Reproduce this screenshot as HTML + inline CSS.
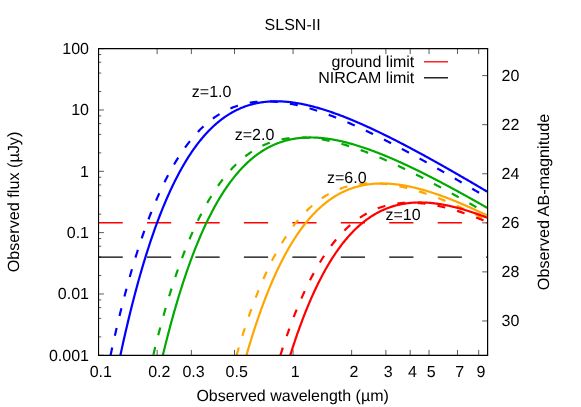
<!DOCTYPE html>
<html><head><meta charset="utf-8"><title>SLSN-II</title>
<style>html,body{margin:0;padding:0;background:#fff;}body{width:581px;height:407px;overflow:hidden;position:relative;font-family:"Liberation Sans",sans-serif;}</style>
</head><body>
<svg width="581" height="407" viewBox="0 0 581 407" style="position:absolute;left:0;top:0;will-change:transform">
<defs><clipPath id="c"><rect x="98.55" y="48.65" width="389.05" height="306.65000000000003"/></clipPath></defs>
<path d="M98.55,355.30h5.4M98.55,336.84h2.7M98.55,318.38h2.7M98.55,307.58h2.7M98.55,299.91h2.7M98.55,293.97h5.4M98.55,275.51h2.7M98.55,257.05h2.7M98.55,246.25h2.7M98.55,238.58h2.7M98.55,232.64h5.4M98.55,214.18h2.7M98.55,195.72h2.7M98.55,184.92h2.7M98.55,177.25h2.7M98.55,171.31h5.4M98.55,152.85h2.7M98.55,134.39h2.7M98.55,123.59h2.7M98.55,115.92h2.7M98.55,109.98h5.4M98.55,91.52h2.7M98.55,73.06h2.7M98.55,62.26h2.7M98.55,54.59h2.7M98.55,48.65h5.4M98.55,355.3v-5.4M98.55,48.65v5.4M157.11,355.3v-5.4M157.11,48.65v5.4M191.36,355.3v-5.4M191.36,48.65v5.4M234.52,355.3v-5.4M234.52,48.65v5.4M293.07,355.3v-5.4M293.07,48.65v5.4M351.63,355.3v-5.4M351.63,48.65v5.4M385.89,355.3v-5.4M385.89,48.65v5.4M410.19,355.3v-5.4M410.19,48.65v5.4M429.04,355.3v-5.4M429.04,48.65v5.4M457.47,355.3v-5.4M457.47,48.65v5.4M478.70,355.3v-5.4M478.70,48.65v5.4M487.6,75.64h-5.4M487.6,124.70h-5.4M487.6,173.76h-5.4M487.6,222.83h-5.4M487.6,271.89h-5.4M487.6,320.96h-5.4" stroke="#000" stroke-width="0.65" fill="none"/>
<g clip-path="url(#c)">
<path d="M98.55,222.75H487.6" stroke="#ff0000" stroke-width="1.3" stroke-dasharray="24.2 24.25" fill="none"/>
<path d="M98.55,257.2H487.6" stroke="#000" stroke-width="1.3" stroke-dasharray="24.2 24.25" fill="none"/>
<path d="M114.25,385.30 L115.67,378.14 L116.45,374.28 L117.22,370.45 L118.00,366.67 L118.78,362.93 L119.56,359.22 L120.34,355.56 L121.11,351.94 L121.89,348.36 L122.67,344.82 L123.45,341.32 L124.23,337.86 L125.01,334.43 L125.78,331.05 L126.56,327.70 L127.34,324.39 L128.12,321.12 L128.90,317.88 L129.67,314.68 L130.45,311.51 L131.23,308.39 L132.01,305.29 L132.79,302.23 L133.56,299.21 L134.34,296.22 L135.12,293.27 L135.90,290.35 L136.68,287.46 L137.46,284.61 L138.23,281.78 L139.01,279.00 L139.79,276.24 L140.57,273.52 L141.35,270.82 L142.12,268.16 L142.90,265.53 L143.68,262.93 L144.46,260.36 L145.24,257.83 L146.01,255.32 L146.79,252.84 L147.57,250.39 L148.35,247.97 L149.13,245.58 L149.90,243.22 L150.68,240.88 L151.46,238.58 L152.24,236.30 L153.02,234.05 L153.80,231.83 L154.57,229.63 L155.35,227.46 L156.13,225.32 L156.91,223.21 L157.69,221.12 L158.46,219.05 L159.24,217.01 L160.02,215.00 L160.80,213.01 L161.58,211.05 L162.35,209.11 L163.13,207.20 L163.91,205.31 L164.69,203.45 L165.47,201.61 L166.24,199.79 L167.02,197.99 L167.80,196.22 L168.58,194.48 L169.36,192.75 L170.14,191.05 L170.91,189.37 L171.69,187.71 L172.47,186.07 L173.25,184.46 L174.03,182.87 L174.80,181.30 L175.58,179.74 L176.36,178.22 L177.14,176.71 L177.92,175.22 L178.69,173.75 L179.47,172.30 L180.25,170.88 L181.03,169.47 L181.81,168.08 L182.58,166.71 L183.36,165.36 L184.14,164.03 L184.92,162.72 L185.70,161.43 L186.48,160.15 L187.25,158.90 L188.03,157.66 L188.81,156.44 L189.59,155.24 L190.37,154.05 L191.14,152.89 L191.92,151.74 L192.70,150.61 L193.48,149.49 L194.26,148.40 L195.03,147.31 L195.81,146.25 L196.59,145.20 L197.37,144.17 L198.15,143.15 L198.92,142.15 L199.70,141.17 L200.48,140.20 L201.26,139.25 L202.04,138.31 L202.82,137.39 L203.59,136.48 L204.37,135.59 L205.15,134.71 L205.93,133.85 L206.71,133.00 L207.48,132.17 L208.26,131.35 L209.04,130.54 L209.82,129.75 L210.60,128.97 L211.37,128.21 L212.15,127.46 L212.93,126.72 L213.71,126.00 L214.49,125.29 L215.27,124.59 L216.04,123.91 L216.82,123.24 L217.60,122.58 L218.38,121.93 L219.16,121.30 L219.93,120.67 L220.71,120.06 L221.49,119.47 L222.27,118.88 L223.05,118.31 L223.82,117.74 L224.60,117.19 L225.38,116.65 L226.16,116.13 L226.94,115.61 L227.71,115.10 L228.49,114.61 L229.27,114.13 L230.05,113.65 L230.83,113.19 L231.61,112.74 L232.38,112.30 L233.16,111.87 L233.94,111.45 L234.72,111.04 L235.50,110.64 L236.27,110.24 L237.05,109.86 L237.83,109.49 L238.61,109.13 L239.39,108.78 L240.16,108.44 L240.94,108.10 L241.72,107.78 L242.50,107.46 L243.28,107.16 L244.05,106.86 L244.83,106.57 L245.61,106.29 L246.39,106.02 L247.17,105.76 L247.95,105.51 L248.72,105.26 L249.50,105.03 L250.28,104.80 L251.06,104.58 L251.84,104.36 L252.61,104.16 L253.39,103.96 L254.17,103.77 L254.95,103.59 L255.73,103.42 L256.50,103.25 L257.28,103.09 L258.06,102.94 L258.84,102.79 L259.62,102.66 L260.39,102.53 L261.17,102.40 L261.95,102.29 L262.73,102.18 L263.51,102.08 L264.29,101.98 L265.06,101.89 L265.84,101.81 L266.62,101.73 L267.40,101.66 L268.18,101.60 L268.95,101.54 L269.73,101.49 L270.51,101.44 L271.29,101.41 L272.07,101.37 L272.84,101.35 L273.62,101.32 L274.40,101.31 L275.18,101.30 L275.96,101.30 L276.73,101.30 L277.51,101.30 L278.29,101.32 L279.07,101.33 L279.85,101.36 L280.63,101.39 L281.40,101.42 L282.18,101.46 L282.96,101.50 L283.74,101.55 L284.52,101.61 L285.29,101.66 L286.07,101.73 L286.85,101.80 L287.63,101.87 L288.41,101.95 L289.18,102.03 L289.96,102.12 L290.74,102.21 L291.52,102.30 L292.30,102.41 L293.08,102.51 L293.85,102.62 L294.63,102.73 L295.41,102.85 L296.19,102.97 L296.97,103.10 L297.74,103.23 L298.52,103.36 L299.30,103.50 L300.08,103.64 L300.86,103.79 L301.63,103.94 L302.41,104.09 L303.19,104.25 L303.97,104.41 L304.75,104.57 L305.52,104.74 L306.30,104.91 L307.08,105.09 L307.86,105.27 L308.64,105.45 L309.42,105.64 L310.19,105.83 L310.97,106.02 L311.75,106.21 L312.53,106.41 L313.31,106.62 L314.08,106.82 L314.86,107.03 L315.64,107.24 L316.42,107.45 L317.20,107.67 L317.97,107.89 L318.75,108.12 L319.53,108.34 L320.31,108.57 L321.09,108.80 L321.86,109.04 L322.64,109.28 L323.42,109.52 L324.20,109.76 L324.98,110.01 L325.76,110.26 L326.53,110.51 L327.31,110.76 L328.09,111.02 L328.87,111.28 L329.65,111.54 L330.42,111.80 L331.20,112.07 L331.98,112.34 L332.76,112.61 L333.54,112.88 L334.31,113.16 L335.09,113.44 L335.87,113.72 L336.65,114.00 L337.43,114.28 L338.20,114.57 L338.98,114.86 L339.76,115.15 L340.54,115.45 L341.32,115.74 L342.10,116.04 L342.87,116.34 L343.65,116.64 L344.43,116.95 L345.21,117.25 L345.99,117.56 L346.76,117.87 L347.54,118.18 L348.32,118.50 L349.10,118.81 L349.88,119.13 L350.65,119.45 L351.43,119.77 L352.21,120.09 L352.99,120.42 L353.77,120.74 L354.54,121.07 L355.32,121.40 L356.10,121.73 L356.88,122.06 L357.66,122.40 L358.44,122.74 L359.21,123.07 L359.99,123.41 L360.77,123.76 L361.55,124.10 L362.33,124.44 L363.10,124.79 L363.88,125.14 L364.66,125.48 L365.44,125.83 L366.22,126.19 L366.99,126.54 L367.77,126.89 L368.55,127.25 L369.33,127.61 L370.11,127.97 L370.89,128.33 L371.66,128.69 L372.44,129.05 L373.22,129.42 L374.00,129.78 L374.78,130.15 L375.55,130.52 L376.33,130.89 L377.11,131.26 L377.89,131.63 L378.67,132.00 L379.44,132.37 L380.22,132.75 L381.00,133.13 L381.78,133.50 L382.56,133.88 L383.33,134.26 L384.11,134.64 L384.89,135.03 L385.67,135.41 L386.45,135.79 L387.23,136.18 L388.00,136.57 L388.78,136.95 L389.56,137.34 L390.34,137.73 L391.12,138.12 L391.89,138.52 L392.67,138.91 L393.45,139.30 L394.23,139.70 L395.01,140.09 L395.78,140.49 L396.56,140.89 L397.34,141.29 L398.12,141.69 L398.90,142.09 L399.67,142.49 L400.45,142.89 L401.23,143.29 L402.01,143.70 L402.79,144.10 L403.57,144.51 L404.34,144.91 L405.12,145.32 L405.90,145.73 L406.68,146.14 L407.46,146.55 L408.23,146.96 L409.01,147.37 L409.79,147.78 L410.57,148.20 L411.35,148.61 L412.12,149.02 L412.90,149.44 L413.68,149.86 L414.46,150.27 L415.24,150.69 L416.01,151.11 L416.79,151.53 L417.57,151.95 L418.35,152.37 L419.13,152.79 L419.91,153.21 L420.68,153.63 L421.46,154.06 L422.24,154.48 L423.02,154.90 L423.80,155.33 L424.57,155.76 L425.35,156.18 L426.13,156.61 L426.91,157.04 L427.69,157.46 L428.46,157.89 L429.24,158.32 L430.02,158.75 L430.80,159.18 L431.58,159.62 L432.35,160.05 L433.13,160.48 L433.91,160.91 L434.69,161.35 L435.47,161.78 L436.25,162.22 L437.02,162.65 L437.80,163.09 L438.58,163.52 L439.36,163.96 L440.14,164.40 L440.91,164.83 L441.69,165.27 L442.47,165.71 L443.25,166.15 L444.03,166.59 L444.80,167.03 L445.58,167.47 L446.36,167.91 L447.14,168.36 L447.92,168.80 L448.70,169.24 L449.47,169.68 L450.25,170.13 L451.03,170.57 L451.81,171.02 L452.59,171.46 L453.36,171.91 L454.14,172.35 L454.92,172.80 L455.70,173.25 L456.48,173.69 L457.25,174.14 L458.03,174.59 L458.81,175.04 L459.59,175.49 L460.37,175.94 L461.14,176.39 L461.92,176.84 L462.70,177.29 L463.48,177.74 L464.26,178.19 L465.04,178.64 L465.81,179.09 L466.59,179.54 L467.37,180.00 L468.15,180.45 L468.93,180.90 L469.70,181.36 L470.48,181.81 L471.26,182.27 L472.04,182.72 L472.82,183.18 L473.59,183.63 L474.37,184.09 L475.15,184.54 L475.93,185.00 L476.71,185.46 L477.48,185.91 L478.26,186.37 L479.04,186.83 L479.82,187.29 L480.60,187.75 L481.38,188.20 L482.15,188.66 L482.93,189.12 L483.71,189.58 L484.49,190.04 L485.27,190.50 L486.04,190.96 L486.82,191.42 L487.60,191.89 L488.38,192.35 L489.16,192.81 L489.93,193.27 L490.71,193.73 L491.49,194.19 L492.27,194.66 L493.05,195.12" stroke="#0000ff" stroke-width="2.2" fill="none"/>
<path d="M104.40,385.30 L105.55,379.48 L106.33,375.60 L107.11,371.76 L107.89,367.97 L108.67,364.21 L109.44,360.50 L110.22,356.82 L111.00,353.19 L111.78,349.60 L112.56,346.04 L113.33,342.53 L114.11,339.05 L114.89,335.62 L115.67,332.22 L116.45,328.86 L117.22,325.54 L118.00,322.25 L118.78,319.00 L119.56,315.79 L120.34,312.61 L121.11,309.47 L121.89,306.37 L122.67,303.30 L123.45,300.26 L124.23,297.26 L125.01,294.30 L125.78,291.37 L126.56,288.47 L127.34,285.60 L128.12,282.77 L128.90,279.97 L129.67,277.21 L130.45,274.47 L131.23,271.77 L132.01,269.10 L132.79,266.46 L133.56,263.85 L134.34,261.27 L135.12,258.72 L135.90,256.20 L136.68,253.72 L137.46,251.26 L138.23,248.83 L139.01,246.43 L139.79,244.06 L140.57,241.71 L141.35,239.40 L142.12,237.11 L142.90,234.85 L143.68,232.62 L144.46,230.42 L145.24,228.24 L146.01,226.09 L146.79,223.96 L147.57,221.87 L148.35,219.79 L149.13,217.75 L149.90,215.73 L150.68,213.73 L151.46,211.76 L152.24,209.81 L153.02,207.89 L153.80,206.00 L154.57,204.12 L155.35,202.28 L156.13,200.45 L156.91,198.65 L157.69,196.87 L158.46,195.12 L159.24,193.38 L160.02,191.67 L160.80,189.99 L161.58,188.32 L162.35,186.68 L163.13,185.06 L163.91,183.46 L164.69,181.88 L165.47,180.32 L166.24,178.78 L167.02,177.27 L167.80,175.77 L168.58,174.30 L169.36,172.85 L170.14,171.41 L170.91,170.00 L171.69,168.60 L172.47,167.23 L173.25,165.87 L174.03,164.54 L174.80,163.22 L175.58,161.92 L176.36,160.64 L177.14,159.38 L177.92,158.13 L178.69,156.91 L179.47,155.70 L180.25,154.51 L181.03,153.34 L181.81,152.18 L182.58,151.05 L183.36,149.93 L184.14,148.82 L184.92,147.74 L185.70,146.67 L186.48,145.61 L187.25,144.58 L188.03,143.56 L188.81,142.55 L189.59,141.56 L190.37,140.59 L191.14,139.63 L191.92,138.69 L192.70,137.76 L193.48,136.85 L194.26,135.95 L195.03,135.07 L195.81,134.20 L196.59,133.35 L197.37,132.51 L198.15,131.69 L198.92,130.88 L199.70,130.08 L200.48,129.30 L201.26,128.53 L202.04,127.78 L202.82,127.03 L203.59,126.31 L204.37,125.59 L205.15,124.89 L205.93,124.20 L206.71,123.53 L207.48,122.86 L208.26,122.21 L209.04,121.57 L209.82,120.95 L210.60,120.33 L211.37,119.73 L212.15,119.14 L212.93,118.57 L213.71,118.00 L214.49,117.44 L215.27,116.90 L216.04,116.37 L216.82,115.85 L217.60,115.34 L218.38,114.84 L219.16,114.36 L219.93,113.88 L220.71,113.41 L221.49,112.96 L222.27,112.51 L223.05,112.08 L223.82,111.66 L224.60,111.24 L225.38,110.84 L226.16,110.44 L226.94,110.06 L227.71,109.69 L228.49,109.32 L229.27,108.97 L230.05,108.62 L230.83,108.28 L231.61,107.96 L232.38,107.64 L233.16,107.33 L233.94,107.03 L234.72,106.74 L235.50,106.46 L236.27,106.18 L237.05,105.92 L237.83,105.66 L238.61,105.42 L239.39,105.18 L240.16,104.94 L240.94,104.72 L241.72,104.51 L242.50,104.30 L243.28,104.10 L244.05,103.91 L244.83,103.72 L245.61,103.55 L246.39,103.38 L247.17,103.22 L247.95,103.06 L248.72,102.91 L249.50,102.77 L250.28,102.64 L251.06,102.52 L251.84,102.40 L252.61,102.29 L253.39,102.18 L254.17,102.08 L254.95,101.99 L255.73,101.91 L256.50,101.83 L257.28,101.76 L258.06,101.69 L258.84,101.63 L259.62,101.58 L260.39,101.53 L261.17,101.49 L261.95,101.46 L262.73,101.43 L263.51,101.40 L264.29,101.39 L265.06,101.38 L265.84,101.37 L266.62,101.37 L267.40,101.37 L268.18,101.39 L268.95,101.40 L269.73,101.42 L270.51,101.45 L271.29,101.48 L272.07,101.52 L272.84,101.56 L273.62,101.61 L274.40,101.66 L275.18,101.72 L275.96,101.78 L276.73,101.85 L277.51,101.92 L278.29,102.00 L279.07,102.08 L279.85,102.16 L280.63,102.25 L281.40,102.35 L282.18,102.45 L282.96,102.55 L283.74,102.66 L284.52,102.77 L285.29,102.89 L286.07,103.01 L286.85,103.13 L287.63,103.26 L288.41,103.39 L289.18,103.53 L289.96,103.67 L290.74,103.81 L291.52,103.96 L292.30,104.12 L293.08,104.27 L293.85,104.43 L294.63,104.59 L295.41,104.76 L296.19,104.93 L296.97,105.11 L297.74,105.28 L298.52,105.47 L299.30,105.65 L300.08,105.84 L300.86,106.03 L301.63,106.22 L302.41,106.42 L303.19,106.62 L303.97,106.83 L304.75,107.03 L305.52,107.24 L306.30,107.46 L307.08,107.68 L307.86,107.89 L308.64,108.12 L309.42,108.34 L310.19,108.57 L310.97,108.80 L311.75,109.04 L312.53,109.27 L313.31,109.51 L314.08,109.76 L314.86,110.00 L315.64,110.25 L316.42,110.50 L317.20,110.75 L317.97,111.01 L318.75,111.27 L319.53,111.53 L320.31,111.79 L321.09,112.06 L321.86,112.32 L322.64,112.59 L323.42,112.87 L324.20,113.14 L324.98,113.42 L325.76,113.70 L326.53,113.98 L327.31,114.27 L328.09,114.55 L328.87,114.84 L329.65,115.13 L330.42,115.42 L331.20,115.72 L331.98,116.02 L332.76,116.32 L333.54,116.62 L334.31,116.92 L335.09,117.23 L335.87,117.53 L336.65,117.84 L337.43,118.15 L338.20,118.47 L338.98,118.78 L339.76,119.10 L340.54,119.42 L341.32,119.74 L342.10,120.06 L342.87,120.38 L343.65,120.71 L344.43,121.04 L345.21,121.37 L345.99,121.70 L346.76,122.03 L347.54,122.36 L348.32,122.70 L349.10,123.04 L349.88,123.38 L350.65,123.72 L351.43,124.06 L352.21,124.40 L352.99,124.75 L353.77,125.10 L354.54,125.44 L355.32,125.79 L356.10,126.15 L356.88,126.50 L357.66,126.85 L358.44,127.21 L359.21,127.56 L359.99,127.92 L360.77,128.28 L361.55,128.64 L362.33,129.01 L363.10,129.37 L363.88,129.74 L364.66,130.10 L365.44,130.47 L366.22,130.84 L366.99,131.21 L367.77,131.58 L368.55,131.95 L369.33,132.33 L370.11,132.70 L370.89,133.08 L371.66,133.46 L372.44,133.83 L373.22,134.21 L374.00,134.59 L374.78,134.98 L375.55,135.36 L376.33,135.74 L377.11,136.13 L377.89,136.51 L378.67,136.90 L379.44,137.29 L380.22,137.68 L381.00,138.07 L381.78,138.46 L382.56,138.85 L383.33,139.25 L384.11,139.64 L384.89,140.04 L385.67,140.43 L386.45,140.83 L387.23,141.23 L388.00,141.63 L388.78,142.03 L389.56,142.43 L390.34,142.83 L391.12,143.23 L391.89,143.64 L392.67,144.04 L393.45,144.45 L394.23,144.86 L395.01,145.26 L395.78,145.67 L396.56,146.08 L397.34,146.49 L398.12,146.90 L398.90,147.31 L399.67,147.72 L400.45,148.14 L401.23,148.55 L402.01,148.96 L402.79,149.38 L403.57,149.79 L404.34,150.21 L405.12,150.63 L405.90,151.05 L406.68,151.46 L407.46,151.88 L408.23,152.30 L409.01,152.73 L409.79,153.15 L410.57,153.57 L411.35,153.99 L412.12,154.42 L412.90,154.84 L413.68,155.26 L414.46,155.69 L415.24,156.12 L416.01,156.54 L416.79,156.97 L417.57,157.40 L418.35,157.83 L419.13,158.26 L419.91,158.69 L420.68,159.12 L421.46,159.55 L422.24,159.98 L423.02,160.41 L423.80,160.85 L424.57,161.28 L425.35,161.71 L426.13,162.15 L426.91,162.58 L427.69,163.02 L428.46,163.45 L429.24,163.89 L430.02,164.33 L430.80,164.77 L431.58,165.20 L432.35,165.64 L433.13,166.08 L433.91,166.52 L434.69,166.96 L435.47,167.40 L436.25,167.84 L437.02,168.29 L437.80,168.73 L438.58,169.17 L439.36,169.61 L440.14,170.06 L440.91,170.50 L441.69,170.95 L442.47,171.39 L443.25,171.84 L444.03,172.28 L444.80,172.73 L445.58,173.17 L446.36,173.62 L447.14,174.07 L447.92,174.52 L448.70,174.97 L449.47,175.41 L450.25,175.86 L451.03,176.31 L451.81,176.76 L452.59,177.21 L453.36,177.66 L454.14,178.12 L454.92,178.57 L455.70,179.02 L456.48,179.47 L457.25,179.92 L458.03,180.38 L458.81,180.83 L459.59,181.28 L460.37,181.74 L461.14,182.19 L461.92,182.65 L462.70,183.10 L463.48,183.56 L464.26,184.01 L465.04,184.47 L465.81,184.93 L466.59,185.38 L467.37,185.84 L468.15,186.30 L468.93,186.75 L469.70,187.21 L470.48,187.67 L471.26,188.13 L472.04,188.59 L472.82,189.05 L473.59,189.51 L474.37,189.97 L475.15,190.43 L475.93,190.89 L476.71,191.35 L477.48,191.81 L478.26,192.27 L479.04,192.73 L479.82,193.19 L480.60,193.66 L481.38,194.12 L482.15,194.58 L482.93,195.04 L483.71,195.51 L484.49,195.97 L485.27,196.43 L486.04,196.90 L486.82,197.36 L487.60,197.83 L488.38,198.29 L489.16,198.76 L489.93,199.22 L490.71,199.69 L491.49,200.15 L492.27,200.62 L493.05,201.08" stroke="#0000ff" stroke-width="2.2" fill="none" stroke-dasharray="8 12.2" stroke-dashoffset="9.9"/>
<path d="M155.96,385.30 L156.91,380.99 L157.69,377.49 L158.46,374.03 L159.24,370.61 L160.02,367.22 L160.80,363.87 L161.58,360.56 L162.35,357.29 L163.13,354.05 L163.91,350.85 L164.69,347.69 L165.47,344.56 L166.24,341.46 L167.02,338.41 L167.80,335.38 L168.58,332.39 L169.36,329.44 L170.14,326.52 L170.91,323.63 L171.69,320.78 L172.47,317.96 L173.25,315.17 L174.03,312.41 L174.80,309.69 L175.58,307.00 L176.36,304.33 L177.14,301.70 L177.92,299.11 L178.69,296.54 L179.47,294.00 L180.25,291.49 L181.03,289.01 L181.81,286.56 L182.58,284.14 L183.36,281.75 L184.14,279.39 L184.92,277.06 L185.70,274.75 L186.48,272.47 L187.25,270.22 L188.03,268.00 L188.81,265.80 L189.59,263.64 L190.37,261.49 L191.14,259.38 L191.92,257.29 L192.70,255.22 L193.48,253.19 L194.26,251.17 L195.03,249.19 L195.81,247.22 L196.59,245.29 L197.37,243.37 L198.15,241.48 L198.92,239.62 L199.70,237.78 L200.48,235.96 L201.26,234.17 L202.04,232.40 L202.82,230.65 L203.59,228.92 L204.37,227.22 L205.15,225.54 L205.93,223.88 L206.71,222.25 L207.48,220.63 L208.26,219.04 L209.04,217.47 L209.82,215.92 L210.60,214.39 L211.37,212.88 L212.15,211.39 L212.93,209.92 L213.71,208.48 L214.49,207.05 L215.27,205.64 L216.04,204.25 L216.82,202.88 L217.60,201.53 L218.38,200.20 L219.16,198.89 L219.93,197.60 L220.71,196.33 L221.49,195.07 L222.27,193.83 L223.05,192.61 L223.82,191.41 L224.60,190.23 L225.38,189.06 L226.16,187.91 L226.94,186.78 L227.71,185.67 L228.49,184.57 L229.27,183.49 L230.05,182.42 L230.83,181.37 L231.61,180.34 L232.38,179.33 L233.16,178.33 L233.94,177.34 L234.72,176.37 L235.50,175.42 L236.27,174.48 L237.05,173.56 L237.83,172.66 L238.61,171.76 L239.39,170.89 L240.16,170.02 L240.94,169.18 L241.72,168.34 L242.50,167.52 L243.28,166.72 L244.05,165.92 L244.83,165.15 L245.61,164.38 L246.39,163.63 L247.17,162.90 L247.95,162.17 L248.72,161.46 L249.50,160.76 L250.28,160.08 L251.06,159.41 L251.84,158.75 L252.61,158.10 L253.39,157.47 L254.17,156.85 L254.95,156.24 L255.73,155.64 L256.50,155.05 L257.28,154.48 L258.06,153.92 L258.84,153.37 L259.62,152.83 L260.39,152.30 L261.17,151.78 L261.95,151.28 L262.73,150.78 L263.51,150.30 L264.29,149.83 L265.06,149.36 L265.84,148.91 L266.62,148.47 L267.40,148.04 L268.18,147.62 L268.95,147.21 L269.73,146.81 L270.51,146.42 L271.29,146.04 L272.07,145.67 L272.84,145.30 L273.62,144.95 L274.40,144.61 L275.18,144.28 L275.96,143.95 L276.73,143.64 L277.51,143.33 L278.29,143.03 L279.07,142.75 L279.85,142.47 L280.63,142.20 L281.40,141.93 L282.18,141.68 L282.96,141.44 L283.74,141.20 L284.52,140.97 L285.29,140.75 L286.07,140.54 L286.85,140.33 L287.63,140.13 L288.41,139.94 L289.18,139.76 L289.96,139.59 L290.74,139.42 L291.52,139.26 L292.30,139.11 L293.08,138.97 L293.85,138.83 L294.63,138.70 L295.41,138.58 L296.19,138.46 L296.97,138.35 L297.74,138.25 L298.52,138.15 L299.30,138.06 L300.08,137.98 L300.86,137.90 L301.63,137.83 L302.41,137.77 L303.19,137.71 L303.97,137.66 L304.75,137.62 L305.52,137.58 L306.30,137.54 L307.08,137.52 L307.86,137.50 L308.64,137.48 L309.42,137.47 L310.19,137.47 L310.97,137.47 L311.75,137.48 L312.53,137.49 L313.31,137.51 L314.08,137.53 L314.86,137.56 L315.64,137.59 L316.42,137.63 L317.20,137.67 L317.97,137.72 L318.75,137.78 L319.53,137.84 L320.31,137.90 L321.09,137.97 L321.86,138.04 L322.64,138.12 L323.42,138.20 L324.20,138.29 L324.98,138.38 L325.76,138.48 L326.53,138.58 L327.31,138.68 L328.09,138.79 L328.87,138.91 L329.65,139.02 L330.42,139.15 L331.20,139.27 L331.98,139.40 L332.76,139.54 L333.54,139.67 L334.31,139.82 L335.09,139.96 L335.87,140.11 L336.65,140.26 L337.43,140.42 L338.20,140.58 L338.98,140.75 L339.76,140.92 L340.54,141.09 L341.32,141.26 L342.10,141.44 L342.87,141.62 L343.65,141.81 L344.43,142.00 L345.21,142.19 L345.99,142.39 L346.76,142.59 L347.54,142.79 L348.32,142.99 L349.10,143.20 L349.88,143.41 L350.65,143.63 L351.43,143.85 L352.21,144.07 L352.99,144.29 L353.77,144.52 L354.54,144.75 L355.32,144.98 L356.10,145.21 L356.88,145.45 L357.66,145.69 L358.44,145.93 L359.21,146.18 L359.99,146.43 L360.77,146.68 L361.55,146.93 L362.33,147.19 L363.10,147.45 L363.88,147.71 L364.66,147.97 L365.44,148.24 L366.22,148.51 L366.99,148.78 L367.77,149.05 L368.55,149.33 L369.33,149.61 L370.11,149.89 L370.89,150.17 L371.66,150.46 L372.44,150.74 L373.22,151.03 L374.00,151.33 L374.78,151.62 L375.55,151.92 L376.33,152.21 L377.11,152.51 L377.89,152.81 L378.67,153.12 L379.44,153.42 L380.22,153.73 L381.00,154.04 L381.78,154.35 L382.56,154.67 L383.33,154.98 L384.11,155.30 L384.89,155.62 L385.67,155.94 L386.45,156.26 L387.23,156.59 L388.00,156.91 L388.78,157.24 L389.56,157.57 L390.34,157.90 L391.12,158.24 L391.89,158.57 L392.67,158.91 L393.45,159.25 L394.23,159.59 L395.01,159.93 L395.78,160.27 L396.56,160.61 L397.34,160.96 L398.12,161.31 L398.90,161.66 L399.67,162.01 L400.45,162.36 L401.23,162.71 L402.01,163.07 L402.79,163.42 L403.57,163.78 L404.34,164.14 L405.12,164.50 L405.90,164.86 L406.68,165.22 L407.46,165.59 L408.23,165.95 L409.01,166.32 L409.79,166.69 L410.57,167.06 L411.35,167.43 L412.12,167.80 L412.90,168.17 L413.68,168.55 L414.46,168.92 L415.24,169.30 L416.01,169.68 L416.79,170.06 L417.57,170.44 L418.35,170.82 L419.13,171.20 L419.91,171.58 L420.68,171.97 L421.46,172.35 L422.24,172.74 L423.02,173.13 L423.80,173.52 L424.57,173.91 L425.35,174.30 L426.13,174.69 L426.91,175.08 L427.69,175.47 L428.46,175.87 L429.24,176.27 L430.02,176.66 L430.80,177.06 L431.58,177.46 L432.35,177.86 L433.13,178.26 L433.91,178.66 L434.69,179.06 L435.47,179.46 L436.25,179.87 L437.02,180.27 L437.80,180.68 L438.58,181.09 L439.36,181.49 L440.14,181.90 L440.91,182.31 L441.69,182.72 L442.47,183.13 L443.25,183.54 L444.03,183.96 L444.80,184.37 L445.58,184.78 L446.36,185.20 L447.14,185.61 L447.92,186.03 L448.70,186.44 L449.47,186.86 L450.25,187.28 L451.03,187.70 L451.81,188.12 L452.59,188.54 L453.36,188.96 L454.14,189.38 L454.92,189.81 L455.70,190.23 L456.48,190.65 L457.25,191.08 L458.03,191.50 L458.81,191.93 L459.59,192.35 L460.37,192.78 L461.14,193.21 L461.92,193.64 L462.70,194.07 L463.48,194.50 L464.26,194.93 L465.04,195.36 L465.81,195.79 L466.59,196.22 L467.37,196.65 L468.15,197.09 L468.93,197.52 L469.70,197.95 L470.48,198.39 L471.26,198.82 L472.04,199.26 L472.82,199.69 L473.59,200.13 L474.37,200.57 L475.15,201.01 L475.93,201.45 L476.71,201.88 L477.48,202.32 L478.26,202.76 L479.04,203.20 L479.82,203.64 L480.60,204.09 L481.38,204.53 L482.15,204.97 L482.93,205.41 L483.71,205.86 L484.49,206.30 L485.27,206.74 L486.04,207.19 L486.82,207.63 L487.60,208.08 L488.38,208.53 L489.16,208.97 L489.93,209.42 L490.71,209.87 L491.49,210.31 L492.27,210.76 L493.05,211.21" stroke="#00aa00" stroke-width="2.2" fill="none"/>
<path d="M146.35,385.30 L147.57,379.76 L148.35,376.27 L149.13,372.82 L149.90,369.41 L150.68,366.04 L151.46,362.71 L152.24,359.41 L153.02,356.15 L153.80,352.93 L154.57,349.74 L155.35,346.59 L156.13,343.47 L156.91,340.39 L157.69,337.35 L158.46,334.34 L159.24,331.36 L160.02,328.42 L160.80,325.51 L161.58,322.64 L162.35,319.80 L163.13,316.99 L163.91,314.21 L164.69,311.47 L165.47,308.75 L166.24,306.07 L167.02,303.42 L167.80,300.81 L168.58,298.22 L169.36,295.66 L170.14,293.13 L170.91,290.64 L171.69,288.17 L172.47,285.73 L173.25,283.32 L174.03,280.94 L174.80,278.59 L175.58,276.27 L176.36,273.97 L177.14,271.71 L177.92,269.47 L178.69,267.25 L179.47,265.07 L180.25,262.91 L181.03,260.78 L181.81,258.67 L182.58,256.59 L183.36,254.54 L184.14,252.51 L184.92,250.51 L185.70,248.53 L186.48,246.57 L187.25,244.65 L188.03,242.74 L188.81,240.86 L189.59,239.01 L190.37,237.17 L191.14,235.37 L191.92,233.58 L192.70,231.82 L193.48,230.08 L194.26,228.36 L195.03,226.67 L195.81,225.00 L196.59,223.35 L197.37,221.72 L198.15,220.11 L198.92,218.53 L199.70,216.96 L200.48,215.42 L201.26,213.90 L202.04,212.40 L202.82,210.92 L203.59,209.46 L204.37,208.02 L205.15,206.60 L205.93,205.20 L206.71,203.82 L207.48,202.46 L208.26,201.11 L209.04,199.79 L209.82,198.49 L210.60,197.20 L211.37,195.93 L212.15,194.68 L212.93,193.45 L213.71,192.24 L214.49,191.04 L215.27,189.87 L216.04,188.71 L216.82,187.57 L217.60,186.44 L218.38,185.33 L219.16,184.24 L219.93,183.17 L220.71,182.11 L221.49,181.06 L222.27,180.04 L223.05,179.03 L223.82,178.04 L224.60,177.06 L225.38,176.10 L226.16,175.15 L226.94,174.22 L227.71,173.30 L228.49,172.40 L229.27,171.51 L230.05,170.64 L230.83,169.78 L231.61,168.94 L232.38,168.11 L233.16,167.30 L233.94,166.50 L234.72,165.71 L235.50,164.94 L236.27,164.18 L237.05,163.43 L237.83,162.70 L238.61,161.98 L239.39,161.28 L240.16,160.59 L240.94,159.91 L241.72,159.24 L242.50,158.58 L243.28,157.94 L244.05,157.31 L244.83,156.70 L245.61,156.09 L246.39,155.50 L247.17,154.92 L247.95,154.35 L248.72,153.79 L249.50,153.24 L250.28,152.71 L251.06,152.18 L251.84,151.67 L252.61,151.17 L253.39,150.68 L254.17,150.20 L254.95,149.73 L255.73,149.27 L256.50,148.82 L257.28,148.39 L258.06,147.96 L258.84,147.54 L259.62,147.14 L260.39,146.74 L261.17,146.35 L261.95,145.98 L262.73,145.61 L263.51,145.25 L264.29,144.90 L265.06,144.56 L265.84,144.23 L266.62,143.91 L267.40,143.60 L268.18,143.30 L268.95,143.01 L269.73,142.72 L270.51,142.44 L271.29,142.18 L272.07,141.92 L272.84,141.67 L273.62,141.43 L274.40,141.19 L275.18,140.97 L275.96,140.75 L276.73,140.54 L277.51,140.34 L278.29,140.14 L279.07,139.96 L279.85,139.78 L280.63,139.61 L281.40,139.44 L282.18,139.29 L282.96,139.14 L283.74,138.99 L284.52,138.86 L285.29,138.73 L286.07,138.61 L286.85,138.50 L287.63,138.39 L288.41,138.29 L289.18,138.20 L289.96,138.11 L290.74,138.03 L291.52,137.96 L292.30,137.89 L293.08,137.83 L293.85,137.77 L294.63,137.72 L295.41,137.68 L296.19,137.64 L296.97,137.61 L297.74,137.59 L298.52,137.57 L299.30,137.56 L300.08,137.55 L300.86,137.55 L301.63,137.55 L302.41,137.56 L303.19,137.57 L303.97,137.59 L304.75,137.62 L305.52,137.65 L306.30,137.69 L307.08,137.73 L307.86,137.77 L308.64,137.82 L309.42,137.88 L310.19,137.94 L310.97,138.01 L311.75,138.08 L312.53,138.15 L313.31,138.23 L314.08,138.31 L314.86,138.40 L315.64,138.50 L316.42,138.59 L317.20,138.70 L317.97,138.80 L318.75,138.91 L319.53,139.03 L320.31,139.15 L321.09,139.27 L321.86,139.40 L322.64,139.53 L323.42,139.67 L324.20,139.81 L324.98,139.95 L325.76,140.10 L326.53,140.25 L327.31,140.40 L328.09,140.56 L328.87,140.72 L329.65,140.89 L330.42,141.06 L331.20,141.23 L331.98,141.41 L332.76,141.59 L333.54,141.77 L334.31,141.96 L335.09,142.15 L335.87,142.34 L336.65,142.54 L337.43,142.74 L338.20,142.94 L338.98,143.15 L339.76,143.36 L340.54,143.57 L341.32,143.79 L342.10,144.01 L342.87,144.23 L343.65,144.45 L344.43,144.68 L345.21,144.91 L345.99,145.14 L346.76,145.38 L347.54,145.62 L348.32,145.86 L349.10,146.11 L349.88,146.35 L350.65,146.60 L351.43,146.85 L352.21,147.11 L352.99,147.37 L353.77,147.63 L354.54,147.89 L355.32,148.15 L356.10,148.42 L356.88,148.69 L357.66,148.96 L358.44,149.24 L359.21,149.51 L359.99,149.79 L360.77,150.08 L361.55,150.36 L362.33,150.64 L363.10,150.93 L363.88,151.22 L364.66,151.52 L365.44,151.81 L366.22,152.11 L366.99,152.40 L367.77,152.71 L368.55,153.01 L369.33,153.31 L370.11,153.62 L370.89,153.93 L371.66,154.24 L372.44,154.55 L373.22,154.87 L374.00,155.18 L374.78,155.50 L375.55,155.82 L376.33,156.14 L377.11,156.47 L377.89,156.79 L378.67,157.12 L379.44,157.45 L380.22,157.78 L381.00,158.11 L381.78,158.44 L382.56,158.78 L383.33,159.11 L384.11,159.45 L384.89,159.79 L385.67,160.14 L386.45,160.48 L387.23,160.82 L388.00,161.17 L388.78,161.52 L389.56,161.87 L390.34,162.22 L391.12,162.57 L391.89,162.92 L392.67,163.28 L393.45,163.64 L394.23,163.99 L395.01,164.35 L395.78,164.71 L396.56,165.08 L397.34,165.44 L398.12,165.80 L398.90,166.17 L399.67,166.54 L400.45,166.91 L401.23,167.28 L402.01,167.65 L402.79,168.02 L403.57,168.39 L404.34,168.77 L405.12,169.14 L405.90,169.52 L406.68,169.90 L407.46,170.28 L408.23,170.66 L409.01,171.04 L409.79,171.42 L410.57,171.81 L411.35,172.19 L412.12,172.58 L412.90,172.96 L413.68,173.35 L414.46,173.74 L415.24,174.13 L416.01,174.52 L416.79,174.92 L417.57,175.31 L418.35,175.70 L419.13,176.10 L419.91,176.49 L420.68,176.89 L421.46,177.29 L422.24,177.69 L423.02,178.09 L423.80,178.49 L424.57,178.89 L425.35,179.29 L426.13,179.70 L426.91,180.10 L427.69,180.51 L428.46,180.91 L429.24,181.32 L430.02,181.73 L430.80,182.13 L431.58,182.54 L432.35,182.95 L433.13,183.37 L433.91,183.78 L434.69,184.19 L435.47,184.60 L436.25,185.02 L437.02,185.43 L437.80,185.85 L438.58,186.26 L439.36,186.68 L440.14,187.10 L440.91,187.52 L441.69,187.94 L442.47,188.36 L443.25,188.78 L444.03,189.20 L444.80,189.62 L445.58,190.04 L446.36,190.47 L447.14,190.89 L447.92,191.32 L448.70,191.74 L449.47,192.17 L450.25,192.59 L451.03,193.02 L451.81,193.45 L452.59,193.88 L453.36,194.31 L454.14,194.74 L454.92,195.17 L455.70,195.60 L456.48,196.03 L457.25,196.46 L458.03,196.89 L458.81,197.33 L459.59,197.76 L460.37,198.20 L461.14,198.63 L461.92,199.07 L462.70,199.50 L463.48,199.94 L464.26,200.38 L465.04,200.81 L465.81,201.25 L466.59,201.69 L467.37,202.13 L468.15,202.57 L468.93,203.01 L469.70,203.45 L470.48,203.89 L471.26,204.33 L472.04,204.77 L472.82,205.22 L473.59,205.66 L474.37,206.10 L475.15,206.55 L475.93,206.99 L476.71,207.44 L477.48,207.88 L478.26,208.33 L479.04,208.77 L479.82,209.22 L480.60,209.67 L481.38,210.11 L482.15,210.56 L482.93,211.01 L483.71,211.46 L484.49,211.91 L485.27,212.36 L486.04,212.81 L486.82,213.26 L487.60,213.71 L488.38,214.16 L489.16,214.61 L489.93,215.06 L490.71,215.51 L491.49,215.97 L492.27,216.42 L493.05,216.87" stroke="#00aa00" stroke-width="2.2" fill="none" stroke-dasharray="8 12.2" stroke-dashoffset="9.1"/>
<path d="M238.30,385.30 L239.39,381.09 L240.16,378.11 L240.94,375.16 L241.72,372.24 L242.50,369.35 L243.28,366.50 L244.05,363.69 L244.83,360.90 L245.61,358.15 L246.39,355.43 L247.17,352.74 L247.95,350.08 L248.72,347.45 L249.50,344.86 L250.28,342.29 L251.06,339.76 L251.84,337.25 L252.61,334.78 L253.39,332.33 L254.17,329.91 L254.95,327.52 L255.73,325.17 L256.50,322.83 L257.28,320.53 L258.06,318.26 L258.84,316.01 L259.62,313.79 L260.39,311.60 L261.17,309.43 L261.95,307.29 L262.73,305.18 L263.51,303.09 L264.29,301.03 L265.06,298.99 L265.84,296.98 L266.62,295.00 L267.40,293.04 L268.18,291.10 L268.95,289.19 L269.73,287.31 L270.51,285.44 L271.29,283.61 L272.07,281.79 L272.84,280.00 L273.62,278.23 L274.40,276.48 L275.18,274.76 L275.96,273.06 L276.73,271.38 L277.51,269.73 L278.29,268.09 L279.07,266.48 L279.85,264.89 L280.63,263.32 L281.40,261.77 L282.18,260.25 L282.96,258.74 L283.74,257.25 L284.52,255.79 L285.29,254.34 L286.07,252.92 L286.85,251.51 L287.63,250.12 L288.41,248.76 L289.18,247.41 L289.96,246.08 L290.74,244.77 L291.52,243.48 L292.30,242.21 L293.08,240.96 L293.85,239.72 L294.63,238.50 L295.41,237.30 L296.19,236.12 L296.97,234.95 L297.74,233.81 L298.52,232.68 L299.30,231.56 L300.08,230.47 L300.86,229.39 L301.63,228.33 L302.41,227.28 L303.19,226.25 L303.97,225.24 L304.75,224.24 L305.52,223.26 L306.30,222.29 L307.08,221.34 L307.86,220.40 L308.64,219.48 L309.42,218.58 L310.19,217.68 L310.97,216.81 L311.75,215.95 L312.53,215.10 L313.31,214.27 L314.08,213.45 L314.86,212.65 L315.64,211.86 L316.42,211.08 L317.20,210.32 L317.97,209.57 L318.75,208.83 L319.53,208.11 L320.31,207.40 L321.09,206.70 L321.86,206.02 L322.64,205.35 L323.42,204.69 L324.20,204.05 L324.98,203.41 L325.76,202.79 L326.53,202.19 L327.31,201.59 L328.09,201.00 L328.87,200.43 L329.65,199.87 L330.42,199.32 L331.20,198.78 L331.98,198.26 L332.76,197.74 L333.54,197.24 L334.31,196.74 L335.09,196.26 L335.87,195.79 L336.65,195.33 L337.43,194.88 L338.20,194.44 L338.98,194.01 L339.76,193.59 L340.54,193.18 L341.32,192.78 L342.10,192.39 L342.87,192.01 L343.65,191.64 L344.43,191.28 L345.21,190.93 L345.99,190.59 L346.76,190.25 L347.54,189.93 L348.32,189.62 L349.10,189.31 L349.88,189.02 L350.65,188.73 L351.43,188.45 L352.21,188.18 L352.99,187.92 L353.77,187.67 L354.54,187.42 L355.32,187.18 L356.10,186.96 L356.88,186.74 L357.66,186.52 L358.44,186.32 L359.21,186.12 L359.99,185.94 L360.77,185.76 L361.55,185.58 L362.33,185.42 L363.10,185.26 L363.88,185.11 L364.66,184.96 L365.44,184.83 L366.22,184.70 L366.99,184.57 L367.77,184.46 L368.55,184.35 L369.33,184.25 L370.11,184.15 L370.89,184.06 L371.66,183.98 L372.44,183.91 L373.22,183.84 L374.00,183.77 L374.78,183.72 L375.55,183.67 L376.33,183.62 L377.11,183.58 L377.89,183.55 L378.67,183.53 L379.44,183.50 L380.22,183.49 L381.00,183.48 L381.78,183.48 L382.56,183.48 L383.33,183.49 L384.11,183.50 L384.89,183.52 L385.67,183.54 L386.45,183.57 L387.23,183.61 L388.00,183.64 L388.78,183.69 L389.56,183.74 L390.34,183.79 L391.12,183.85 L391.89,183.92 L392.67,183.99 L393.45,184.06 L394.23,184.14 L395.01,184.22 L395.78,184.31 L396.56,184.40 L397.34,184.50 L398.12,184.60 L398.90,184.70 L399.67,184.81 L400.45,184.93 L401.23,185.05 L402.01,185.17 L402.79,185.29 L403.57,185.42 L404.34,185.56 L405.12,185.70 L405.90,185.84 L406.68,185.99 L407.46,186.14 L408.23,186.29 L409.01,186.45 L409.79,186.61 L410.57,186.77 L411.35,186.94 L412.12,187.11 L412.90,187.29 L413.68,187.47 L414.46,187.65 L415.24,187.84 L416.01,188.03 L416.79,188.22 L417.57,188.42 L418.35,188.62 L419.13,188.82 L419.91,189.02 L420.68,189.23 L421.46,189.44 L422.24,189.66 L423.02,189.88 L423.80,190.10 L424.57,190.32 L425.35,190.55 L426.13,190.78 L426.91,191.01 L427.69,191.25 L428.46,191.48 L429.24,191.72 L430.02,191.97 L430.80,192.21 L431.58,192.46 L432.35,192.72 L433.13,192.97 L433.91,193.23 L434.69,193.49 L435.47,193.75 L436.25,194.01 L437.02,194.28 L437.80,194.55 L438.58,194.82 L439.36,195.09 L440.14,195.37 L440.91,195.65 L441.69,195.93 L442.47,196.21 L443.25,196.50 L444.03,196.78 L444.80,197.07 L445.58,197.36 L446.36,197.66 L447.14,197.95 L447.92,198.25 L448.70,198.55 L449.47,198.85 L450.25,199.16 L451.03,199.47 L451.81,199.77 L452.59,200.08 L453.36,200.40 L454.14,200.71 L454.92,201.02 L455.70,201.34 L456.48,201.66 L457.25,201.98 L458.03,202.31 L458.81,202.63 L459.59,202.96 L460.37,203.29 L461.14,203.62 L461.92,203.95 L462.70,204.28 L463.48,204.62 L464.26,204.95 L465.04,205.29 L465.81,205.63 L466.59,205.97 L467.37,206.31 L468.15,206.66 L468.93,207.00 L469.70,207.35 L470.48,207.70 L471.26,208.05 L472.04,208.40 L472.82,208.76 L473.59,209.11 L474.37,209.47 L475.15,209.83 L475.93,210.18 L476.71,210.55 L477.48,210.91 L478.26,211.27 L479.04,211.63 L479.82,212.00 L480.60,212.37 L481.38,212.73 L482.15,213.10 L482.93,213.47 L483.71,213.85 L484.49,214.22 L485.27,214.59 L486.04,214.97 L486.82,215.35 L487.60,215.72 L488.38,216.10 L489.16,216.48 L489.93,216.86 L490.71,217.25 L491.49,217.63 L492.27,218.02 L493.05,218.40" stroke="#ffa500" stroke-width="2.2" fill="none"/>
<path d="M228.43,385.30 L229.27,382.02 L230.05,379.02 L230.83,376.06 L231.61,373.13 L232.38,370.23 L233.16,367.37 L233.94,364.54 L234.72,361.74 L235.50,358.97 L236.27,356.24 L237.05,353.54 L237.83,350.87 L238.61,348.23 L239.39,345.62 L240.16,343.05 L240.94,340.50 L241.72,337.98 L242.50,335.50 L243.28,333.04 L244.05,330.61 L244.83,328.21 L245.61,325.84 L246.39,323.50 L247.17,321.19 L247.95,318.90 L248.72,316.65 L249.50,314.42 L250.28,312.21 L251.06,310.04 L251.84,307.89 L252.61,305.76 L253.39,303.67 L254.17,301.60 L254.95,299.55 L255.73,297.53 L256.50,295.54 L257.28,293.57 L258.06,291.62 L258.84,289.70 L259.62,287.81 L260.39,285.94 L261.17,284.09 L261.95,282.27 L262.73,280.47 L263.51,278.69 L264.29,276.93 L265.06,275.20 L265.84,273.49 L266.62,271.81 L267.40,270.14 L268.18,268.50 L268.95,266.88 L269.73,265.28 L270.51,263.71 L271.29,262.15 L272.07,260.61 L272.84,259.10 L273.62,257.61 L274.40,256.13 L275.18,254.68 L275.96,253.25 L276.73,251.83 L277.51,250.44 L278.29,249.07 L279.07,247.71 L279.85,246.38 L280.63,245.06 L281.40,243.76 L282.18,242.48 L282.96,241.22 L283.74,239.98 L284.52,238.75 L285.29,237.55 L286.07,236.36 L286.85,235.19 L287.63,234.03 L288.41,232.90 L289.18,231.78 L289.96,230.68 L290.74,229.59 L291.52,228.52 L292.30,227.47 L293.08,226.43 L293.85,225.41 L294.63,224.41 L295.41,223.42 L296.19,222.45 L296.97,221.49 L297.74,220.55 L298.52,219.62 L299.30,218.71 L300.08,217.81 L300.86,216.93 L301.63,216.07 L302.41,215.21 L303.19,214.38 L303.97,213.55 L304.75,212.74 L305.52,211.95 L306.30,211.17 L307.08,210.40 L307.86,209.65 L308.64,208.90 L309.42,208.18 L310.19,207.46 L310.97,206.76 L311.75,206.07 L312.53,205.40 L313.31,204.74 L314.08,204.09 L314.86,203.45 L315.64,202.82 L316.42,202.21 L317.20,201.61 L317.97,201.02 L318.75,200.44 L319.53,199.88 L320.31,199.32 L321.09,198.78 L321.86,198.25 L322.64,197.73 L323.42,197.22 L324.20,196.72 L324.98,196.24 L325.76,195.76 L326.53,195.30 L327.31,194.84 L328.09,194.40 L328.87,193.96 L329.65,193.54 L330.42,193.13 L331.20,192.72 L331.98,192.33 L332.76,191.95 L333.54,191.57 L334.31,191.21 L335.09,190.85 L335.87,190.51 L336.65,190.17 L337.43,189.85 L338.20,189.53 L338.98,189.22 L339.76,188.92 L340.54,188.63 L341.32,188.35 L342.10,188.08 L342.87,187.81 L343.65,187.56 L344.43,187.31 L345.21,187.07 L345.99,186.84 L346.76,186.62 L347.54,186.40 L348.32,186.19 L349.10,185.99 L349.88,185.80 L350.65,185.62 L351.43,185.44 L352.21,185.28 L352.99,185.11 L353.77,184.96 L354.54,184.81 L355.32,184.67 L356.10,184.54 L356.88,184.42 L357.66,184.30 L358.44,184.19 L359.21,184.08 L359.99,183.99 L360.77,183.89 L361.55,183.81 L362.33,183.73 L363.10,183.66 L363.88,183.59 L364.66,183.54 L365.44,183.48 L366.22,183.44 L366.99,183.40 L367.77,183.36 L368.55,183.33 L369.33,183.31 L370.11,183.29 L370.89,183.28 L371.66,183.28 L372.44,183.28 L373.22,183.28 L374.00,183.29 L374.78,183.31 L375.55,183.33 L376.33,183.36 L377.11,183.39 L377.89,183.43 L378.67,183.47 L379.44,183.52 L380.22,183.57 L381.00,183.63 L381.78,183.69 L382.56,183.76 L383.33,183.83 L384.11,183.91 L384.89,183.99 L385.67,184.07 L386.45,184.16 L387.23,184.26 L388.00,184.36 L388.78,184.46 L389.56,184.57 L390.34,184.68 L391.12,184.80 L391.89,184.92 L392.67,185.04 L393.45,185.17 L394.23,185.31 L395.01,185.44 L395.78,185.58 L396.56,185.73 L397.34,185.88 L398.12,186.03 L398.90,186.19 L399.67,186.35 L400.45,186.51 L401.23,186.68 L402.01,186.85 L402.79,187.02 L403.57,187.20 L404.34,187.38 L405.12,187.57 L405.90,187.75 L406.68,187.95 L407.46,188.14 L408.23,188.34 L409.01,188.54 L409.79,188.74 L410.57,188.95 L411.35,189.16 L412.12,189.38 L412.90,189.59 L413.68,189.81 L414.46,190.03 L415.24,190.26 L416.01,190.49 L416.79,190.72 L417.57,190.95 L418.35,191.19 L419.13,191.43 L419.91,191.67 L420.68,191.92 L421.46,192.17 L422.24,192.42 L423.02,192.67 L423.80,192.93 L424.57,193.19 L425.35,193.45 L426.13,193.71 L426.91,193.98 L427.69,194.24 L428.46,194.51 L429.24,194.79 L430.02,195.06 L430.80,195.34 L431.58,195.62 L432.35,195.90 L433.13,196.19 L433.91,196.47 L434.69,196.76 L435.47,197.05 L436.25,197.35 L437.02,197.64 L437.80,197.94 L438.58,198.24 L439.36,198.54 L440.14,198.84 L440.91,199.15 L441.69,199.46 L442.47,199.76 L443.25,200.08 L444.03,200.39 L444.80,200.70 L445.58,201.02 L446.36,201.34 L447.14,201.66 L447.92,201.98 L448.70,202.31 L449.47,202.63 L450.25,202.96 L451.03,203.29 L451.81,203.62 L452.59,203.95 L453.36,204.29 L454.14,204.62 L454.92,204.96 L455.70,205.30 L456.48,205.64 L457.25,205.98 L458.03,206.33 L458.81,206.67 L459.59,207.02 L460.37,207.37 L461.14,207.72 L461.92,208.07 L462.70,208.42 L463.48,208.78 L464.26,209.13 L465.04,209.49 L465.81,209.85 L466.59,210.21 L467.37,210.57 L468.15,210.93 L468.93,211.29 L469.70,211.66 L470.48,212.03 L471.26,212.39 L472.04,212.76 L472.82,213.13 L473.59,213.50 L474.37,213.88 L475.15,214.25 L475.93,214.63 L476.71,215.00 L477.48,215.38 L478.26,215.76 L479.04,216.14 L479.82,216.52 L480.60,216.90 L481.38,217.28 L482.15,217.67 L482.93,218.05 L483.71,218.44 L484.49,218.83 L485.27,219.22 L486.04,219.61 L486.82,220.00 L487.60,220.39 L488.38,220.78 L489.16,221.17 L489.93,221.57 L490.71,221.96 L491.49,222.36 L492.27,222.76 L493.05,223.16" stroke="#ffa500" stroke-width="2.2" fill="none" stroke-dasharray="8 12.2" stroke-dashoffset="9.2"/>
<path d="M281.43,385.30 L282.96,379.81 L283.74,377.06 L284.52,374.33 L285.29,371.65 L286.07,368.99 L286.85,366.36 L287.63,363.77 L288.41,361.20 L289.18,358.67 L289.96,356.16 L290.74,353.69 L291.52,351.24 L292.30,348.83 L293.07,346.44 L293.85,344.08 L294.63,341.75 L295.41,339.45 L296.19,337.18 L296.97,334.93 L297.74,332.71 L298.52,330.52 L299.30,328.35 L300.08,326.21 L300.86,324.10 L301.63,322.01 L302.41,319.95 L303.19,317.92 L303.97,315.91 L304.75,313.93 L305.52,311.97 L306.30,310.03 L307.08,308.12 L307.86,306.24 L308.64,304.37 L309.42,302.54 L310.19,300.72 L310.97,298.93 L311.75,297.16 L312.53,295.42 L313.31,293.69 L314.08,291.99 L314.86,290.32 L315.64,288.66 L316.42,287.03 L317.20,285.42 L317.97,283.83 L318.75,282.26 L319.53,280.71 L320.31,279.18 L321.09,277.68 L321.86,276.19 L322.64,274.73 L323.42,273.28 L324.20,271.86 L324.98,270.45 L325.76,269.07 L326.53,267.70 L327.31,266.35 L328.09,265.02 L328.87,263.72 L329.65,262.42 L330.42,261.15 L331.20,259.90 L331.98,258.66 L332.76,257.45 L333.54,256.25 L334.31,255.07 L335.09,253.90 L335.87,252.75 L336.65,251.63 L337.43,250.51 L338.20,249.42 L338.98,248.34 L339.76,247.28 L340.54,246.23 L341.32,245.20 L342.10,244.19 L342.87,243.19 L343.65,242.21 L344.43,241.24 L345.21,240.29 L345.99,239.35 L346.76,238.43 L347.54,237.53 L348.32,236.64 L349.10,235.76 L349.88,234.90 L350.65,234.06 L351.43,233.22 L352.21,232.41 L352.99,231.60 L353.77,230.81 L354.54,230.04 L355.32,229.27 L356.10,228.53 L356.88,227.79 L357.66,227.07 L358.44,226.36 L359.21,225.66 L359.99,224.98 L360.77,224.31 L361.55,223.65 L362.33,223.01 L363.10,222.37 L363.88,221.75 L364.66,221.15 L365.44,220.55 L366.22,219.97 L366.99,219.39 L367.77,218.83 L368.55,218.28 L369.33,217.75 L370.11,217.22 L370.89,216.70 L371.66,216.20 L372.44,215.71 L373.22,215.22 L374.00,214.75 L374.78,214.29 L375.55,213.84 L376.33,213.40 L377.11,212.97 L377.89,212.55 L378.67,212.14 L379.44,211.74 L380.22,211.35 L381.00,210.97 L381.78,210.60 L382.56,210.24 L383.33,209.89 L384.11,209.55 L384.89,209.22 L385.67,208.90 L386.45,208.58 L387.23,208.28 L388.00,207.98 L388.78,207.70 L389.56,207.42 L390.34,207.15 L391.12,206.89 L391.89,206.63 L392.67,206.39 L393.45,206.15 L394.23,205.93 L395.01,205.71 L395.78,205.49 L396.56,205.29 L397.34,205.10 L398.12,204.91 L398.90,204.73 L399.67,204.55 L400.45,204.39 L401.23,204.23 L402.01,204.08 L402.79,203.93 L403.57,203.80 L404.34,203.67 L405.12,203.55 L405.90,203.43 L406.68,203.32 L407.46,203.22 L408.23,203.13 L409.01,203.04 L409.79,202.96 L410.57,202.88 L411.35,202.81 L412.12,202.75 L412.90,202.69 L413.68,202.64 L414.46,202.60 L415.24,202.56 L416.01,202.53 L416.79,202.50 L417.57,202.48 L418.35,202.47 L419.13,202.46 L419.91,202.45 L420.68,202.45 L421.46,202.46 L422.24,202.48 L423.02,202.49 L423.80,202.52 L424.57,202.55 L425.35,202.58 L426.13,202.62 L426.91,202.67 L427.69,202.72 L428.46,202.77 L429.24,202.83 L430.02,202.89 L430.80,202.96 L431.58,203.04 L432.35,203.12 L433.13,203.20 L433.91,203.29 L434.69,203.38 L435.47,203.48 L436.25,203.58 L437.02,203.68 L437.80,203.79 L438.58,203.91 L439.36,204.02 L440.14,204.15 L440.91,204.27 L441.69,204.40 L442.47,204.54 L443.25,204.68 L444.03,204.82 L444.80,204.97 L445.58,205.12 L446.36,205.27 L447.14,205.43 L447.92,205.59 L448.70,205.75 L449.47,205.92 L450.25,206.09 L451.03,206.27 L451.81,206.45 L452.59,206.63 L453.36,206.82 L454.14,207.01 L454.92,207.20 L455.70,207.40 L456.48,207.60 L457.25,207.80 L458.03,208.00 L458.81,208.21 L459.59,208.42 L460.37,208.64 L461.14,208.86 L461.92,209.08 L462.70,209.30 L463.48,209.53 L464.26,209.76 L465.04,209.99 L465.81,210.23 L466.59,210.47 L467.37,210.71 L468.15,210.95 L468.93,211.20 L469.70,211.45 L470.48,211.70 L471.26,211.95 L472.04,212.21 L472.82,212.47 L473.59,212.73 L474.37,212.99 L475.15,213.26 L475.93,213.53 L476.71,213.80 L477.48,214.07 L478.26,214.35 L479.04,214.63 L479.82,214.91 L480.60,215.19 L481.38,215.48 L482.15,215.77 L482.93,216.06 L483.71,216.35 L484.49,216.64 L485.27,216.94 L486.04,217.24 L486.82,217.54 L487.60,217.84 L488.38,218.14 L489.16,218.45 L489.93,218.76 L490.71,219.07 L491.49,219.38 L492.27,219.69 L493.05,220.01" stroke="#ff0000" stroke-width="2.2" fill="none"/>
<path d="M271.59,385.30 L272.84,380.77 L273.62,378.01 L274.40,375.28 L275.18,372.59 L275.96,369.92 L276.73,367.29 L277.51,364.68 L278.29,362.11 L279.07,359.57 L279.85,357.06 L280.63,354.58 L281.40,352.12 L282.18,349.70 L282.96,347.30 L283.74,344.94 L284.52,342.60 L285.29,340.29 L286.07,338.01 L286.85,335.76 L287.63,333.53 L288.41,331.33 L289.18,329.16 L289.96,327.02 L290.74,324.90 L291.52,322.80 L292.30,320.74 L293.07,318.70 L293.85,316.68 L294.63,314.69 L295.41,312.72 L296.19,310.78 L296.97,308.87 L297.74,306.97 L298.52,305.11 L299.30,303.26 L300.08,301.44 L300.86,299.65 L301.63,297.87 L302.41,296.12 L303.19,294.39 L303.97,292.69 L304.75,291.00 L305.52,289.34 L306.30,287.70 L307.08,286.09 L307.86,284.49 L308.64,282.92 L309.42,281.37 L310.19,279.83 L310.97,278.32 L311.75,276.83 L312.53,275.36 L313.31,273.91 L314.08,272.48 L314.86,271.07 L315.64,269.68 L316.42,268.31 L317.20,266.96 L317.97,265.62 L318.75,264.31 L319.53,263.02 L320.31,261.74 L321.09,260.48 L321.86,259.24 L322.64,258.02 L323.42,256.82 L324.20,255.63 L324.98,254.46 L325.76,253.31 L326.53,252.18 L327.31,251.06 L328.09,249.96 L328.87,248.88 L329.65,247.81 L330.42,246.76 L331.20,245.73 L331.98,244.71 L332.76,243.71 L333.54,242.72 L334.31,241.75 L335.09,240.80 L335.87,239.86 L336.65,238.93 L337.43,238.02 L338.20,237.13 L338.98,236.25 L339.76,235.39 L340.54,234.54 L341.32,233.70 L342.10,232.88 L342.87,232.07 L343.65,231.28 L344.43,230.50 L345.21,229.73 L345.99,228.98 L346.76,228.24 L347.54,227.52 L348.32,226.80 L349.10,226.11 L349.88,225.42 L350.65,224.75 L351.43,224.09 L352.21,223.44 L352.99,222.80 L353.77,222.18 L354.54,221.57 L355.32,220.97 L356.10,220.38 L356.88,219.80 L357.66,219.24 L358.44,218.69 L359.21,218.15 L359.99,217.62 L360.77,217.10 L361.55,216.59 L362.33,216.10 L363.10,215.61 L363.88,215.14 L364.66,214.68 L365.44,214.22 L366.22,213.78 L366.99,213.35 L367.77,212.93 L368.55,212.51 L369.33,212.11 L370.11,211.72 L370.89,211.34 L371.66,210.97 L372.44,210.60 L373.22,210.25 L374.00,209.91 L374.78,209.57 L375.55,209.25 L376.33,208.93 L377.11,208.62 L377.89,208.33 L378.67,208.04 L379.44,207.76 L380.22,207.48 L381.00,207.22 L381.78,206.97 L382.56,206.72 L383.33,206.48 L384.11,206.25 L384.89,206.03 L385.67,205.82 L386.45,205.61 L387.23,205.41 L388.00,205.22 L388.78,205.04 L389.56,204.87 L390.34,204.70 L391.12,204.54 L391.89,204.39 L392.67,204.24 L393.45,204.10 L394.23,203.97 L395.01,203.85 L395.78,203.73 L396.56,203.62 L397.34,203.52 L398.12,203.42 L398.90,203.33 L399.67,203.25 L400.45,203.17 L401.23,203.10 L402.01,203.03 L402.79,202.97 L403.57,202.92 L404.34,202.88 L405.12,202.84 L405.90,202.80 L406.68,202.78 L407.46,202.75 L408.23,202.74 L409.01,202.73 L409.79,202.72 L410.57,202.72 L411.35,202.73 L412.12,202.74 L412.90,202.76 L413.68,202.78 L414.46,202.81 L415.24,202.84 L416.01,202.88 L416.79,202.92 L417.57,202.97 L418.35,203.03 L419.13,203.08 L419.91,203.15 L420.68,203.22 L421.46,203.29 L422.24,203.37 L423.02,203.45 L423.80,203.53 L424.57,203.62 L425.35,203.72 L426.13,203.82 L426.91,203.92 L427.69,204.03 L428.46,204.15 L429.24,204.26 L430.02,204.38 L430.80,204.51 L431.58,204.64 L432.35,204.77 L433.13,204.91 L433.91,205.05 L434.69,205.20 L435.47,205.35 L436.25,205.50 L437.02,205.66 L437.80,205.82 L438.58,205.98 L439.36,206.15 L440.14,206.32 L440.91,206.50 L441.69,206.67 L442.47,206.86 L443.25,207.04 L444.03,207.23 L444.80,207.42 L445.58,207.62 L446.36,207.82 L447.14,208.02 L447.92,208.22 L448.70,208.43 L449.47,208.64 L450.25,208.86 L451.03,209.07 L451.81,209.29 L452.59,209.52 L453.36,209.74 L454.14,209.97 L454.92,210.20 L455.70,210.44 L456.48,210.68 L457.25,210.92 L458.03,211.16 L458.81,211.40 L459.59,211.65 L460.37,211.90 L461.14,212.16 L461.92,212.41 L462.70,212.67 L463.48,212.93 L464.26,213.20 L465.04,213.46 L465.81,213.73 L466.59,214.00 L467.37,214.28 L468.15,214.55 L468.93,214.83 L469.70,215.11 L470.48,215.39 L471.26,215.68 L472.04,215.96 L472.82,216.25 L473.59,216.54 L474.37,216.84 L475.15,217.13 L475.93,217.43 L476.71,217.73 L477.48,218.03 L478.26,218.34 L479.04,218.64 L479.82,218.95 L480.60,219.26 L481.38,219.57 L482.15,219.88 L482.93,220.20 L483.71,220.52 L484.49,220.84 L485.27,221.16 L486.04,221.48 L486.82,221.80 L487.60,222.13 L488.38,222.46 L489.16,222.79 L489.93,223.12 L490.71,223.45 L491.49,223.79 L492.27,224.12 L493.05,224.46" stroke="#ff0000" stroke-width="2.2" fill="none" stroke-dasharray="8 12.2" stroke-dashoffset="9.1"/>
</g>
<path d="M424,61.8H448" stroke="#ff0000" stroke-width="1.3" fill="none"/>
<path d="M424,77.8H448" stroke="#000" stroke-width="1.3" fill="none"/>
<path d="M98.0,48.65H488.20000000000005" stroke="#000" stroke-width="1.3"/>
<path d="M98.0,355.3H488.20000000000005" stroke="#000" stroke-width="1.35"/>
<path d="M98.55,48.65V355.3" stroke="#000" stroke-width="1.1"/>
<path d="M487.6,48.65V355.3" stroke="#000" stroke-width="1.2"/>
<g font-family="'Liberation Sans', sans-serif" font-size="16" fill="#000" text-rendering="geometricPrecision"><text x="89" y="54.05" text-anchor="end">100</text><text x="89" y="115.38" text-anchor="end">10</text><text x="89" y="176.71" text-anchor="end">1</text><text x="89" y="238.04" text-anchor="end">0.1</text><text x="89" y="299.37" text-anchor="end">0.01</text><text x="89" y="360.7" text-anchor="end">0.001</text><text x="100.75" y="376.8" text-anchor="middle">0.1</text><text x="159.31" y="376.8" text-anchor="middle">0.2</text><text x="193.56" y="376.8" text-anchor="middle">0.3</text><text x="236.72" y="376.8" text-anchor="middle">0.5</text><text x="295.27" y="376.8" text-anchor="middle">1</text><text x="353.83" y="376.8" text-anchor="middle">2</text><text x="388.09" y="376.8" text-anchor="middle">3</text><text x="412.39" y="376.8" text-anchor="middle">4</text><text x="431.24" y="376.8" text-anchor="middle">5</text><text x="459.67" y="376.8" text-anchor="middle">7</text><text x="480.9" y="376.8" text-anchor="middle">9</text><text x="501.5" y="81.04" text-anchor="start">20</text><text x="501.5" y="130.1" text-anchor="start">22</text><text x="501.5" y="179.16" text-anchor="start">24</text><text x="501.5" y="228.23" text-anchor="start">26</text><text x="501.5" y="277.29" text-anchor="start">28</text><text x="501.5" y="326.36" text-anchor="start">30</text><text x="292.6" y="29.8" text-anchor="middle">SLSN-II</text><text x="292.6" y="401.2" text-anchor="middle">Observed wavelength (µm)</text><text x="19" y="202" text-anchor="middle" font-size="16.2" transform="rotate(-90 19 202)">Observed flux (µJy)</text><text x="549" y="202" text-anchor="middle" font-size="16.2" transform="rotate(-90 549 202)">Observed AB-magnitude</text><text x="414.3" y="66.9" text-anchor="end">ground limit</text><text x="414.3" y="83.2" text-anchor="end">NIRCAM limit</text><text x="191.8" y="96.8" text-anchor="start">z=1.0</text><text x="234.7" y="139.9" text-anchor="start">z=2.0</text><text x="327" y="182.8" text-anchor="start">z=6.0</text><text x="385.45" y="219.5" text-anchor="start">z=10</text></g>
</svg>
</body></html>
